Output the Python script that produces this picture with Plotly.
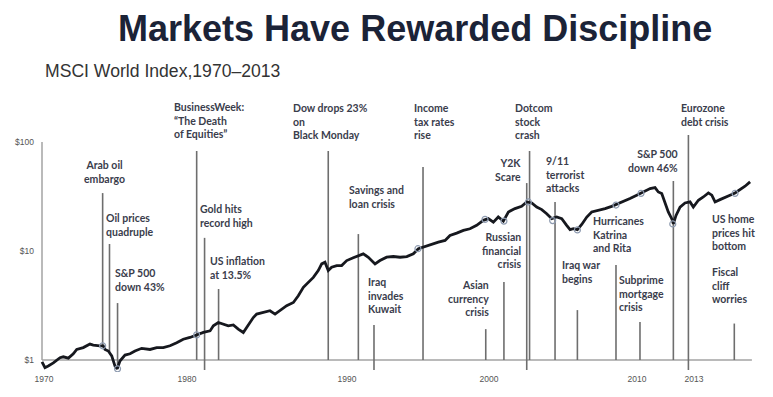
import numpy as np
import plotly.graph_objects as go

# ---------------- data ----------------
YEARS = [
    1970.00, 1970.20, 1970.42, 1970.76, 1971.21, 1971.43, 1971.77, 1972.10, 1972.33, 1972.77,
    1973.22, 1973.44, 1973.89, 1974.11, 1974.23, 1974.45, 1974.68, 1974.90, 1975.05, 1975.23,
    1975.57, 1975.91, 1976.24, 1976.69, 1977.25, 1977.70, 1978.14, 1978.59, 1979.04, 1979.48,
    1979.93, 1980.38, 1980.83, 1981.28, 1981.50, 1981.83, 1982.17, 1982.50, 1982.84, 1983.17,
    1983.51, 1983.85, 1984.18, 1984.41, 1984.85, 1985.30, 1985.64, 1985.97, 1986.42, 1986.87,
    1987.20, 1987.54, 1987.87, 1988.21, 1988.54, 1988.77, 1988.99, 1989.21, 1989.44, 1989.78,
    1990.11, 1990.45, 1990.89, 1991.23, 1991.56, 1991.90, 1992.35, 1992.68, 1993.13, 1993.58,
    1994.03, 1994.48, 1994.92, 1995.26, 1995.70, 1996.15, 1996.60, 1997.05, 1997.38, 1997.83,
    1998.28, 1998.72, 1999.17, 1999.62, 1999.95, 2000.29, 2000.62, 2000.96, 2001.30, 2001.74,
    2002.19, 2002.53, 2002.87, 2003.20, 2003.54, 2003.87, 2004.21, 2004.54, 2004.88, 2005.21,
    2005.44, 2005.66, 2005.93, 2006.22, 2006.56, 2006.89, 2007.34, 2007.79, 2008.23, 2008.57,
    2009.01, 2009.46, 2009.91, 2010.36, 2010.81, 2011.14, 2011.36, 2011.59, 2011.81, 2012.03,
    2012.26, 2012.37, 2012.55, 2012.82, 2013.15, 2013.49, 2013.71, 2014.05, 2014.38, 2014.72,
    2014.95, 2015.17, 2015.50, 2015.84, 2016.17, 2016.51, 2016.85, 2017.18, 2017.52,
]
INDEX_VALUES = [
    0.96, 0.85, 0.88, 0.94, 1.05, 1.07, 1.04, 1.14, 1.25, 1.30,
    1.40, 1.37, 1.35, 1.35, 1.25, 1.21, 1.09, 0.88, 0.83, 0.98,
    1.11, 1.14, 1.21, 1.28, 1.25, 1.30, 1.30, 1.35, 1.44, 1.55,
    1.61, 1.70, 1.79, 1.85, 2.06, 2.21, 2.13, 2.06, 2.10, 1.92,
    1.79, 2.13, 2.45, 2.64, 2.73, 2.83, 2.64, 2.83, 3.15, 3.37,
    3.89, 4.64, 5.16, 5.73, 6.61, 7.62, 7.88, 6.61, 7.09, 7.35,
    7.35, 8.17, 8.66, 9.09, 9.42, 8.77, 7.62, 8.17, 8.77, 8.90,
    8.77, 8.90, 9.42, 10.48, 11.0, 11.5, 12.05, 12.5, 13.9, 14.6,
    15.45, 16.0, 17.2, 19.1, 19.8, 18.4, 20.5, 18.8, 22.8, 24.5,
    25.7, 28.2, 27.6, 25.3, 24.0, 22.0, 19.8, 20.5, 19.8, 17.2,
    15.7, 16.0, 15.7, 17.5, 20.5, 22.8, 23.6, 24.5, 25.7, 26.8,
    28.2, 30.3, 32.5, 34.8, 37.4, 38.2, 34.8, 33.7, 27.2, 22.8,
    19.8, 17.8, 21.2, 25.3, 27.6, 28.2, 25.3, 29.2, 31.3, 34.1,
    32.5, 28.2, 29.6, 31.3, 32.5, 34.1, 36.6, 39.3, 43.1,
]

# event markers on the curve
MARK_YEARS = [1974.07, 1975.07, 1980.38, 1995.23, 1999.73, 2001.00, 2002.64,
              2004.27, 2005.93, 2008.52, 2010.20, 2012.33, 2016.51]
MARK_VALUES = [1.35, 0.83, 1.70, 10.5, 19.5, 18.8, 28.2,
               19.0, 15.6, 26.4, 33.8, 17.7, 33.8]

# event leader lines
EVENT_YEARS = [1974.07, 1974.53, 1975.07, 1980.38, 1980.91, 1981.85, 1989.21,
               1991.23, 1992.28, 1995.57, 1999.78, 2001.00, 2002.53, 2002.72,
               2004.43, 2005.93, 2008.52, 2010.13, 2012.37, 2013.38, 2016.46]
EVENT_TOP = [34.0, 11.6, 3.33, 82.7, 13.2, 4.48, 82.7,
             14.3, 2.09, 59.0, 1.92, 5.2, 42.0, 82.7,
             28.2, 2.87, 7.44, 2.23, 43.9, 116.0, 2.16]
EVENT_BOTTOM = [1.37, 1.18, 0.84, 1.0, 0.81, 1.0, 1.0,
                1.0, 0.81, 1.0, 1.0, 1.0, 0.81, 1.0,
                1.0, 1.0, 1.0, 1.0, 1.0, 0.81, 1.0]

EVENT_LABELS = [
    "Arab oil<br>embargo",
    "Oil prices<br>quadruple",
    "S&P 500<br>down 43%",
    "BusinessWeek:<br>\u201cThe Death<br>of Equities\u201d",
    "Gold hits<br>record high",
    "US inflation<br>at 13.5%",
    "Dow drops 23%<br>on<br>Black Monday",
    "Savings and<br>loan crisis",
    "Iraq<br>invades<br>Kuwait",
    "Income<br>tax rates<br>rise",
    "Asian<br>currency<br>crisis",
    "Russian<br>financial<br>crisis",
    "Y2K<br>Scare",
    "Dotcom<br>stock<br>crash",
    "9/11<br>terrorist<br>attacks",
    "Iraq war<br>begins",
    "Hurricanes<br>Katrina<br>and Rita",
    "Subprime<br>mortgage<br>crisis",
    "S&P 500<br>down 46%",
    "Eurozone<br>debt crisis",
    "US home<br>prices hit<br>bottom",
    "Fiscal<br>cliff<br>worries",
]

Y_TICK_VALUES = [1, 10, 100]
Y_TICK_TEXT = ["$1", "$10", "$100"]
X_TICK_TEXT = ["1970", "1980", "1990", "2000", "2010", "2013"]

# ---------------- layout placement (not data) ----------------
X_TICK_POS = [1970.13, 1979.73, 1990.47, 2000.0, 2009.93, 2013.76]
# (x year, top value, xanchor)
LABEL_PLACE = [
    (1974.19, 73.6, "center"),
    (1974.17, 24.0, "left"),
    (1974.77, 7.52, "left"),
    (1978.71, 250, "left"),
    (1980.50, 28.5, "left"),
    (1981.11, 9.59, "left"),
    (1986.72, 244, "left"),
    (1990.46, 43.1, "left"),
    (1991.73, 6.13, "left"),
    (1994.82, 244, "left"),
    (2000.12, 5.80, "right"),
    (2002.33, 15.85, "right"),
    (2002.30, 75.7, "right"),
    (2001.58, 244, "left"),
    (2003.66, 80.1, "left"),
    (2004.73, 8.72, "left"),
    (2006.86, 22.1, "left"),
    (2008.58, 6.44, "left"),
    (2012.81, 92.3, "right"),
    (2012.72, 244, "left"),
    (2014.85, 23.4, "left"),
    (2014.85, 7.57, "left"),
]

# the page body adds an 8px offset; layout pixel positions compensate for it
PAGE_OFFSET = 8
W, H = 773, 397

TEXT_COLOR = "#3a3d4c"
LABEL_FONT = dict(family="Lato, 'Open Sans', sans-serif", size=10.5, color=TEXT_COLOR)

fig = go.Figure()

# axis frame: vertical axis line and baseline
fig.add_trace(go.Scatter(
    x=[YEARS[0], YEARS[0], None, YEARS[0], YEARS[-1] + 0.12],
    y=[Y_TICK_VALUES[0], Y_TICK_VALUES[-1], None, Y_TICK_VALUES[0], Y_TICK_VALUES[0]],
    mode="lines", line=dict(color="#a3a3a3", width=1.5), hoverinfo="skip"))

# event leader lines
ex, ey = [], []
for x, b, t in zip(EVENT_YEARS, EVENT_BOTTOM, EVENT_TOP):
    ex += [x, x, None]
    ey += [b, t, None]
fig.add_trace(go.Scatter(x=ex, y=ey, mode="lines",
                         line=dict(color="#6e6e6e", width=1.6), hoverinfo="skip"))

# index line
fig.add_trace(go.Scatter(x=YEARS, y=INDEX_VALUES, mode="lines",
                         line=dict(color="#16181e", width=2.8)))

# event markers
fig.add_trace(go.Scatter(x=MARK_YEARS, y=MARK_VALUES, mode="markers",
                         marker=dict(symbol="circle-open", size=6,
                                     color="#8e9bb0", line=dict(width=1.2))))

annotations = []
for text, (x, v, xa) in zip(EVENT_LABELS, LABEL_PLACE):
    annotations.append(dict(
        x=x, y=np.log10(v), xref="x", yref="y", text="<b>" + text + "</b>",
        showarrow=False, xanchor=xa, yanchor="top", align=xa,
        font=LABEL_FONT))

annotations.append(dict(
    x=0.004, y=1.075, xref="paper", yref="paper",
    text="MSCI World Index,1970\u20132013", showarrow=False,
    xanchor="left", yanchor="middle",
    font=dict(family="Liberation Sans, Arial, sans-serif", size=17.6, color="#333333")))

fig.update_layout(
    width=W, height=H,
    margin=dict(l=40 - PAGE_OFFSET, r=8 + PAGE_OFFSET, t=92 - PAGE_OFFSET, b=25 + PAGE_OFFSET,
                autoexpand=False),
    paper_bgcolor="white", plot_bgcolor="white",
    showlegend=False,
    title=dict(
        text="<b>Markets Have Rewarded Discipline</b>",
        x=(118 - PAGE_OFFSET) / W, xanchor="left", xref="container",
        y=1 - (28.5 - PAGE_OFFSET) / H, yanchor="middle", yref="container",
        font=dict(family="Liberation Sans, Arial, sans-serif", size=36, color="#1b2337")),
    annotations=annotations,
)

fig.update_xaxes(
    range=[1969.866, 2018.52], showgrid=False, zeroline=False, showline=False,
    automargin=False,
    tickmode="array", tickvals=X_TICK_POS, ticktext=X_TICK_TEXT,
    ticks="", tickfont=dict(family="Liberation Sans, Arial, sans-serif", size=8.5, color="#555555"))

fig.update_yaxes(
    type="log", range=[-0.110, 2.4587], showgrid=False, zeroline=False, showline=False,
    automargin=False,
    tickmode="array", tickvals=Y_TICK_VALUES, ticktext=Y_TICK_TEXT,
    ticks="", ticklabelstandoff=5,
    tickfont=dict(family="Liberation Sans, Arial, sans-serif", size=8.5, color="#555555"))

fig.write_html("out.html")
